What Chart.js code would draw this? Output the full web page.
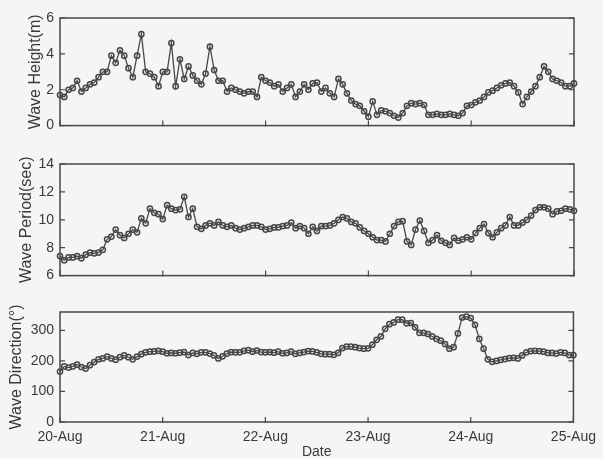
<!DOCTYPE html>
<html>
<head>
<meta charset="utf-8">
<script src="https://cdn.jsdelivr.net/npm/chart.js@4.4.1/dist/chart.umd.min.js"></script>
<style>
  html, body { margin: 0; padding: 0; background: #f5f5f3; }
  #wrap { position: relative; width: 603px; height: 459px; }
  canvas { position: absolute; left: 0; }
</style>
</head>
<body>
<div id="wrap">
  <canvas id="c0" width="603" height="140" style="top:0px"></canvas>
  <canvas id="c1" width="603" height="150" style="top:140px"></canvas>
  <canvas id="c2" width="603" height="169" style="top:290px"></canvas>
</div>
<script>
// hourly samples, 20-Aug 00:00 .. 25-Aug 00:00
var dateLabels = ['20-Aug', '21-Aug', '22-Aug', '23-Aug', '24-Aug', '25-Aug'];

var heightM = [
  1.7, 1.6, 2.0, 2.1, 2.5, 1.9, 2.1, 2.3, 2.4, 2.7, 3.0, 3.0, 3.9, 3.5, 4.2, 3.9,
  3.2, 2.7, 3.9, 5.1, 3.0, 2.9, 2.7, 2.2, 3.0, 3.0, 4.6, 2.2, 3.7, 2.6, 3.3, 2.8,
  2.5, 2.3, 2.9, 4.4, 3.1, 2.5, 2.5, 1.9, 2.1, 2.0, 1.9, 1.8, 1.9, 1.9, 1.6, 2.7,
  2.5, 2.4, 2.2, 2.3, 1.9, 2.1, 2.3, 1.6, 1.9, 2.3, 2.0, 2.35, 2.4, 1.9, 2.1, 1.8,
  1.6, 2.6, 2.3, 1.8, 1.4, 1.2, 1.1, 0.8, 0.5, 1.35, 0.6, 0.85, 0.8, 0.7, 0.55, 0.45,
  0.7, 1.1, 1.25, 1.2, 1.25, 1.15, 0.6, 0.6, 0.65, 0.6, 0.6, 0.65, 0.6, 0.55, 0.7, 1.1,
  1.15, 1.3, 1.4, 1.6, 1.85, 1.95, 2.1, 2.25, 2.35, 2.4, 2.2, 1.85, 1.2, 1.6, 1.9, 2.2,
  2.7, 3.3, 3.0, 2.6, 2.5, 2.4, 2.2, 2.2, 2.35
];

var periodSec = [
  7.4, 7.1, 7.3, 7.3, 7.4, 7.25, 7.5, 7.65, 7.6, 7.65, 7.85, 8.6, 8.8, 9.3, 8.9, 8.7,
  9.0, 9.3, 9.1, 10.1, 9.75, 10.8, 10.5, 10.4, 10.05, 11.05, 10.8, 10.7, 10.75, 11.65, 10.2, 10.8,
  9.5, 9.35, 9.6, 9.75, 9.6, 9.85, 9.6, 9.5, 9.6, 9.4, 9.3, 9.4, 9.5, 9.6, 9.6, 9.5,
  9.3, 9.35, 9.45, 9.45, 9.55, 9.6, 9.8, 9.4, 9.55, 9.4, 9.0, 9.5, 9.2, 9.55, 9.55, 9.6,
  9.75, 10.0, 10.2, 10.1, 9.85, 9.75, 9.45, 9.2, 9.0, 8.75, 8.55, 8.55, 8.45, 9.0, 9.55, 9.85,
  9.9, 8.45, 8.2, 9.3, 9.95, 9.2, 8.35, 8.55, 8.9, 8.5, 8.35, 8.2, 8.7, 8.5, 8.6, 8.75,
  8.6, 9.05, 9.4, 9.7, 9.05, 8.75, 9.1, 9.4, 9.6, 10.2, 9.6, 9.6, 9.8, 10.0, 10.3, 10.7,
  10.9, 10.9, 10.8, 10.4, 10.6, 10.65, 10.8, 10.75, 10.65
];

var directionDeg = [
  165, 182, 178, 182, 188, 180, 175, 186, 196, 205, 208, 214, 208, 204, 212, 218,
  212, 205, 214, 222, 228, 230, 231, 233, 230, 225, 226, 225, 227, 229, 219, 226,
  223, 228, 228, 224, 218, 208, 215, 224, 229, 228, 228, 233, 235, 230, 234, 229,
  228, 229, 227, 230, 225, 226, 230, 223, 226, 229, 232, 231, 228, 223, 222, 222,
  220, 226, 242, 247, 247, 245, 242, 240, 241, 253, 269, 280, 305, 320, 326, 335,
  335, 323, 324, 310, 292, 292, 288, 280, 272, 266, 255, 240, 245, 290, 342, 345,
  340, 318, 272, 240, 205, 197, 200, 203, 206, 209, 210, 208, 218, 228, 232, 233,
  232, 230, 226, 226, 224, 228, 226, 219, 219
];

var ink = '#474747';
var textInk = '#3a3a3a';
var fontFam = "'Liberation Sans', Arial, sans-serif";

// box around the axes with inward ticks (matlab style)
var framePlugin = {
  id: 'frame',
  beforeDatasetsDraw: function (chart) {
    var ctx = chart.ctx, a = chart.chartArea, x = chart.scales.x, y = chart.scales.y;
    ctx.save();
    ctx.strokeStyle = ink;
    ctx.lineWidth = 1.5;
    ctx.strokeRect(a.left, a.top, a.right - a.left, a.bottom - a.top);
    ctx.lineWidth = 1.2;
    ctx.beginPath();
    x.ticks.forEach(function (t) {
      var px = x.getPixelForValue(t.value);
      ctx.moveTo(px, a.bottom + 1);
      ctx.lineTo(px, a.bottom - 5);
    });
    y.ticks.forEach(function (t) {
      var py = y.getPixelForValue(t.value);
      ctx.moveTo(a.left, py); ctx.lineTo(a.left + 5, py);
      ctx.moveTo(a.right, py); ctx.lineTo(a.right - 5, py);
    });
    ctx.stroke();
    ctx.restore();
  }
};

function makeChart(id, values, cfg) {
  var pts = values.map(function (v, i) { return { x: i, y: v }; });
  return new Chart(document.getElementById(id), {
    type: 'line',
    data: {
      datasets: [{
        data: pts,
        borderColor: ink,
        borderWidth: 1.3,
        pointRadius: 2.6,
        pointBorderWidth: 1.5,
        pointBorderColor: ink,
        pointBackgroundColor: 'rgba(0,0,0,0)',
        tension: 0,
        clip: false
      }]
    },
    options: {
      responsive: false,
      animation: false,
      devicePixelRatio: 1,
      layout: { padding: { left: 0, right: 29, top: cfg.padTop, bottom: 0 } },
      plugins: { legend: { display: false }, tooltip: { enabled: false } },
      scales: {
        x: {
          type: 'linear',
          min: 0,
          max: 120,
          grid: { display: false, drawTicks: false },
          border: { display: false },
          ticks: {
            display: cfg.showDates,
            stepSize: 24,
            autoSkip: false,
            maxRotation: 0,
            padding: 7,
            color: textInk,
            font: { family: fontFam, size: 14 },
            callback: function (v) { return dateLabels[v / 24]; }
          },
          title: {
            display: cfg.showDates,
            text: 'Date',
            color: textInk,
            padding: { top: 0, bottom: -2 },
            font: { family: fontFam, size: 14 }
          },
          afterFit: function (s) { s.height = cfg.xHeight; }
        },
        y: {
          min: cfg.min,
          max: cfg.max,
          grid: { display: false, drawTicks: false },
          border: { display: false },
          ticks: {
            stepSize: cfg.step,
            includeBounds: false,
            padding: 6,
            color: textInk,
            font: { family: fontFam, size: 14 }
          },
          title: {
            display: true,
            text: cfg.title,
            color: textInk,
            padding: { top: cfg.titleGap, bottom: 0 },
            font: { family: fontFam, size: 16 }
          },
          afterFit: function (s) { s.width = 60; }
        }
      }
    },
    plugins: [framePlugin]
  });
}

makeChart('c0', heightM, { title: 'Wave Height(m)', min: 0, max: 6, step: 2, padTop: 18, xHeight: 12, titleGap: 26, showDates: false });
makeChart('c1', periodSec, { title: 'Wave Period(sec)', min: 6, max: 14, step: 2, padTop: 24, xHeight: 14, titleGap: 17, showDates: false });
makeChart('c2', directionDeg, { title: 'Wave Direction(\u00b0)', min: 0, max: 360, step: 100, padTop: 22, xHeight: 37, titleGap: 7, showDates: true });
</script>
</body>
</html>
